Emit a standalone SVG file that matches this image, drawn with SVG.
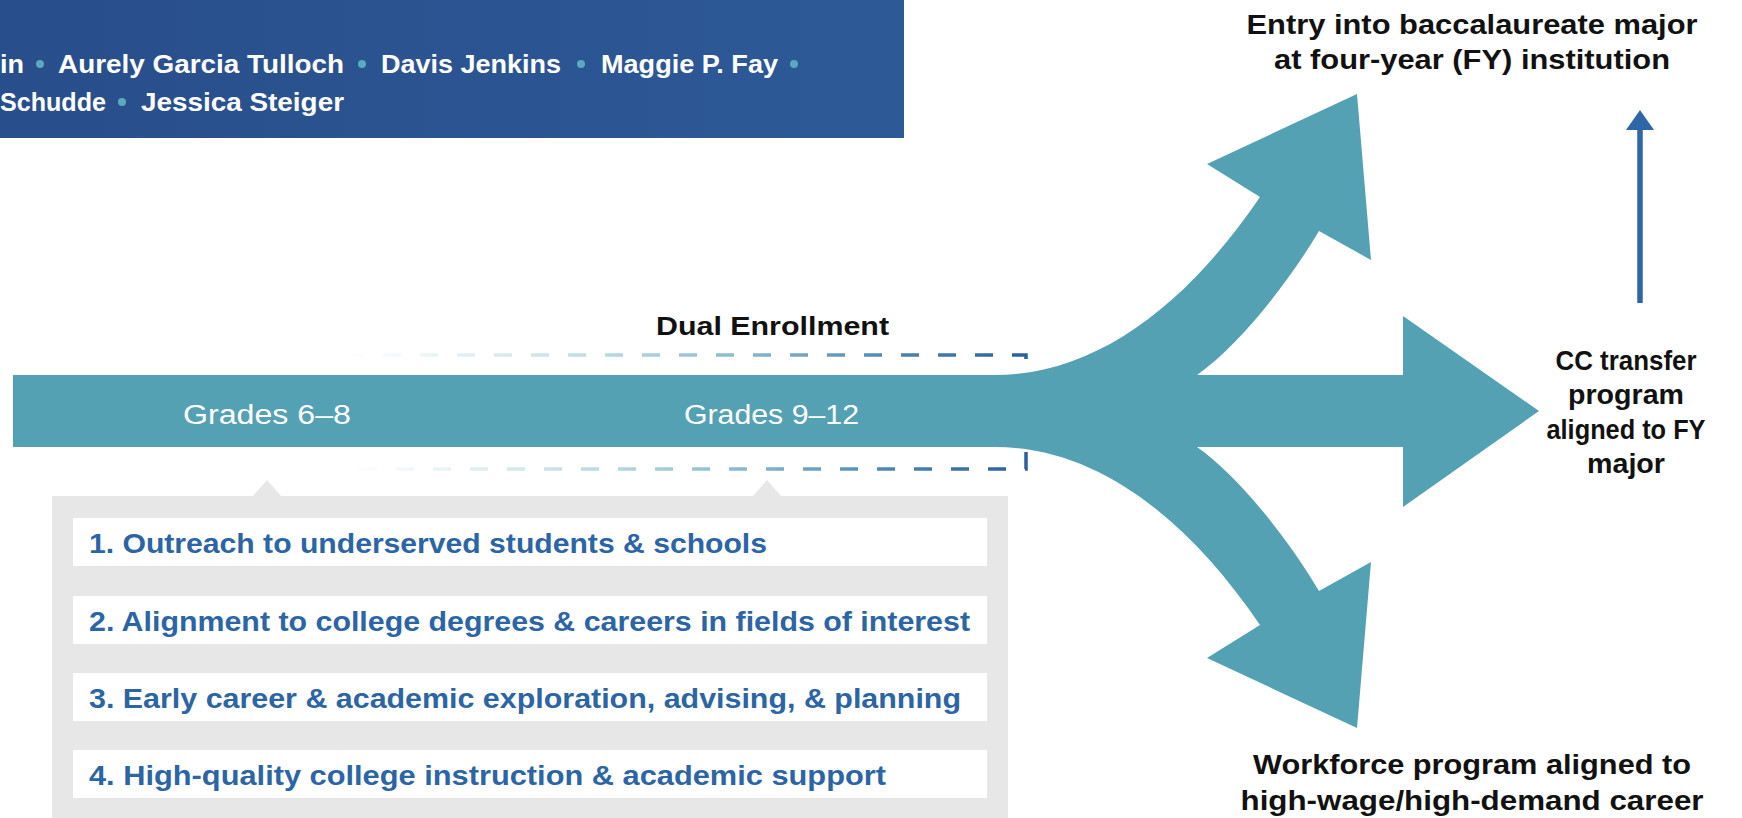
<svg xmlns="http://www.w3.org/2000/svg" width="1742" height="818" viewBox="0 0 1742 818">
<defs>
<linearGradient id="bannerGrad" x1="0" y1="0" x2="1" y2="0">
<stop offset="0" stop-color="#284e8b"/>
<stop offset="1" stop-color="#2d5a97"/>
</linearGradient>
<linearGradient id="dashGrad" gradientUnits="userSpaceOnUse" x1="345" y1="0" x2="1026" y2="0">
<stop offset="0" stop-color="#a8d2dc" stop-opacity="0"/>
<stop offset="0.45" stop-color="#8cc0cd" stop-opacity="0.75"/>
<stop offset="0.8" stop-color="#4c86b4"/>
<stop offset="1" stop-color="#2a5e9f"/>
</linearGradient>
<style>
.author{font-family:"Liberation Sans",Arial,sans-serif;font-weight:700;font-size:26px;fill:#ffffff;}
.dot{fill:#5aa9c0;}
.arrow{fill:#55a1b4;}
.grade{font-family:"Liberation Sans",Arial,sans-serif;font-size:27px;fill:#ffffff;}
.label{font-family:"Liberation Sans",Arial,sans-serif;font-weight:700;font-size:27px;fill:#111111;text-anchor:middle;}
.item{font-family:"Liberation Sans",Arial,sans-serif;font-weight:700;font-size:27px;fill:#2c65a5;}
.box{fill:#ffffff;}
</style>
</defs>

<g id="banner">
<rect x="0" y="0" width="904" height="138" fill="url(#bannerGrad)"/>
<text class="author" x="0" y="73" textLength="24" lengthAdjust="spacingAndGlyphs">in</text>
<circle class="dot" cx="40" cy="64" r="4"/>
<text class="author" x="58" y="73" textLength="286" lengthAdjust="spacingAndGlyphs">Aurely Garcia Tulloch</text>
<circle class="dot" cx="362" cy="64" r="4"/>
<text class="author" x="381" y="73" textLength="180" lengthAdjust="spacingAndGlyphs">Davis Jenkins</text>
<circle class="dot" cx="581" cy="64" r="4"/>
<text class="author" x="601" y="73" textLength="177" lengthAdjust="spacingAndGlyphs">Maggie P. Fay</text>
<circle class="dot" cx="794" cy="64" r="4"/>
<text class="author" x="0" y="111" textLength="106" lengthAdjust="spacingAndGlyphs">Schudde</text>
<circle class="dot" cx="122" cy="102" r="4"/>
<text class="author" x="141" y="111" textLength="203" lengthAdjust="spacingAndGlyphs">Jessica Steiger</text>
</g>

<g id="supports">
<rect x="52" y="496" width="956" height="322" fill="#e6e7e6"/>
<polygon points="253,496 267,480 281,496" fill="#e6e7e6"/>
<polygon points="753,496 767,480 781,496" fill="#e6e7e6"/>
<g id="item1"><rect class="box" x="73" y="518" width="914" height="48"/><text class="item" x="89" y="553" textLength="678" lengthAdjust="spacingAndGlyphs">1. Outreach to underserved students &amp; schools</text></g>
<g id="item2"><rect class="box" x="73" y="596" width="914" height="48"/><text class="item" x="89" y="631" textLength="881" lengthAdjust="spacingAndGlyphs">2. Alignment to college degrees &amp; careers in fields of interest</text></g>
<g id="item3"><rect class="box" x="73" y="673" width="914" height="48"/><text class="item" x="89" y="708" textLength="872" lengthAdjust="spacingAndGlyphs">3. Early career &amp; academic exploration, advising, &amp; planning</text></g>
<g id="item4"><rect class="box" x="73" y="750" width="914" height="48"/><text class="item" x="89" y="785" textLength="797" lengthAdjust="spacingAndGlyphs">4. High-quality college instruction &amp; academic support</text></g>
</g>

<g id="connectors">
<path d="M345,355 H1026 V469 H345" fill="none" stroke="url(#dashGrad)" stroke-width="3.5" stroke-dasharray="18 19" stroke-dashoffset="36"/>
<g id="pathway">
<rect class="arrow" x="13" y="375" width="1400" height="72"/>
<polygon class="arrow" points="1403,316 1539,411 1403,507"/>
<path id="upArrow" class="arrow" d="M995,375 C1100,375 1190,300 1260,197 L1207,164 L1357,94 L1371,260 L1319,231 C1290,280 1240,345 1197,375 L1197,390 L995,390 Z"/>
<path class="arrow" transform="translate(0,822) scale(1,-1)" d="M995,375 C1100,375 1190,300 1260,197 L1207,164 L1357,94 L1371,260 L1319,231 C1290,280 1240,345 1197,375 L1197,390 L995,390 Z"/>
</g>
<g id="transferArrow">
<line x1="1640" y1="303" x2="1640" y2="126" stroke="#2f66a8" stroke-width="5.5"/>
<polygon points="1626,130 1640,110 1654,130" fill="#2f66a8"/>
</g>
</g>

<g id="grades">
<text class="grade" x="183" y="424" textLength="168" lengthAdjust="spacingAndGlyphs">Grades 6–8</text>
<text class="grade" x="684" y="424" textLength="175" lengthAdjust="spacingAndGlyphs">Grades 9–12</text>
</g>

<g id="dual">
<text x="656" y="335" font-family="Liberation Sans, Arial, sans-serif" font-weight="700" font-size="26" fill="#111111" textLength="233" lengthAdjust="spacingAndGlyphs">Dual Enrollment</text>
</g>

<g id="baccalaureate">
<text class="label" x="1472" y="34" textLength="451" lengthAdjust="spacingAndGlyphs">Entry into baccalaureate major</text>
<text class="label" x="1472" y="69" textLength="396" lengthAdjust="spacingAndGlyphs">at four-year (FY) institution</text>
</g>

<g id="ccTransfer">
<text class="label" x="1626" y="370" textLength="141" lengthAdjust="spacingAndGlyphs">CC transfer</text>
<text class="label" x="1626" y="404" textLength="116" lengthAdjust="spacingAndGlyphs">program</text>
<text class="label" x="1626" y="439" textLength="159" lengthAdjust="spacingAndGlyphs">aligned to FY</text>
<text class="label" x="1626" y="473" textLength="78" lengthAdjust="spacingAndGlyphs">major</text>
</g>

<g id="workforce">
<text class="label" x="1472" y="774" textLength="438" lengthAdjust="spacingAndGlyphs">Workforce program aligned to</text>
<text class="label" x="1472" y="810" textLength="463" lengthAdjust="spacingAndGlyphs">high-wage/high-demand career</text>
</g>
</svg>
